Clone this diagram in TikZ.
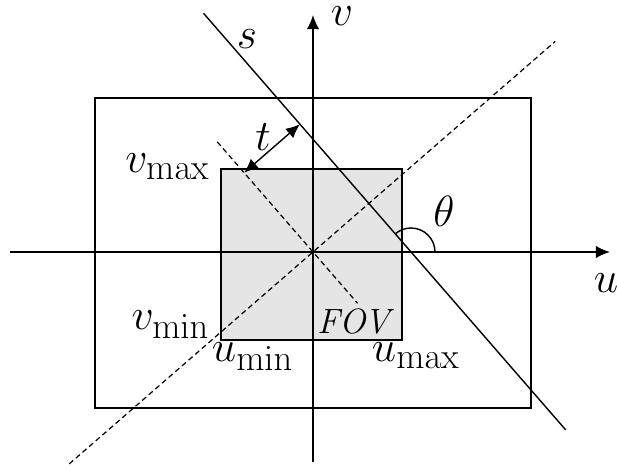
\documentclass[tikz,border=0pt]{standalone}
\usetikzlibrary{arrows.meta,calc}
\begin{document}
\begin{tikzpicture}[x=0.2cm,y=0.2cm,line width=0.8pt,
  lbl/.style={font=\Huge,inner sep=1pt},
  axisarrow/.style={-{Latex[length=8pt,width=7pt]}},
  dashline/.style={line width=0.7pt,dash pattern=on 3pt off 2pt}]
\useasboundingbox (-31.3,-21.8) rectangle (30.4,25.2);
% line s: normal angle 41, theta = 131, distance t = 7.4
\def\ang{131}
\def\dist{7.4}
\coordinate (O) at (0,0);
% image frame and field of view
\draw (-21.8,-15.6) rectangle (21.8,15.4);
\draw[fill=gray!20] (-9.2,-8.8) coordinate (fovsw) rectangle (8.9,8.3) coordinate (fovne);
\coordinate (fovnw) at (fovsw|-fovne);
\coordinate (fovse) at (fovne|-fovsw);
% axes
\coordinate (uL) at (-30.3,0);
\coordinate (uR) at (29.7,0);
\coordinate (vB) at (0,-21);
\coordinate (vT) at (0,23.7);
\draw[axisarrow] (uL) -- (uR);
\draw[axisarrow] (vB) -- (vT);
\node[lbl] (ulab) at (29.3,-3.1) {$u$};
\node[lbl] (vlab) at (2.9,23.6) {$v$};
% normal through origin and parallel to s through origin
\coordinate (nA) at (\ang+90:32.3);
\coordinate (nB) at (\ang-90:32.1);
\draw[dashline] (nA) -- (nB);
\coordinate (pA) at (\ang:14.6);
\coordinate (pB) at (\ang-180:6.8);
\draw[dashline] (pA) -- (pB);
% the line s
\coordinate (sA) at ($(\ang-90:\dist)+(\ang:25.2)$);
\coordinate (sB) at ($(\ang-90:\dist)+(\ang:-30.0)$);
\draw (sA) -- (sB);
\node[lbl] (slab) at (-6.6,21.3) {$s$};
% distance t
\coordinate (tA) at (\ang:10.5);
\coordinate (tB) at ($(tA)+(\ang-90:\dist)$);
\draw[{Latex[length=8pt,width=7pt]}-{Latex[length=8pt,width=7pt]}] (tA) -- (tB);
\node[lbl] (tlab) at (-5.0,11.5) {$t$};
% angle theta
\coordinate (sU) at (9.8,0);
\draw ($(sU)+(2.4,0)$) arc[start angle=0,end angle=\ang,radius=2.4];
\node[lbl] (thlab) at (13.1,4.1) {$\theta$};
% bounds
\node[lbl,anchor=base east] (vmax) at ($(fovnw)+(-0.9,-0.4)$) {$v_{\max}$};
\node[lbl,anchor=base east] (vmin) at ($(fovsw)+(-0.95,1.0)$) {$v_{\min}$};
\node[lbl,anchor=base west] (umin) at ($(fovsw)+(-1.15,-2.2)$) {$u_{\min}$};
\node[lbl,anchor=base west] (umax) at ($(fovse)+(-3.25,-2.2)$) {$u_{\max}$};
\node[font=\fontsize{20}{23}\selectfont\itshape,inner sep=1pt,anchor=base east] (fov) at ($(fovse)+(-0.9,0.6)$) {FOV};
\end{tikzpicture}
\end{document}
